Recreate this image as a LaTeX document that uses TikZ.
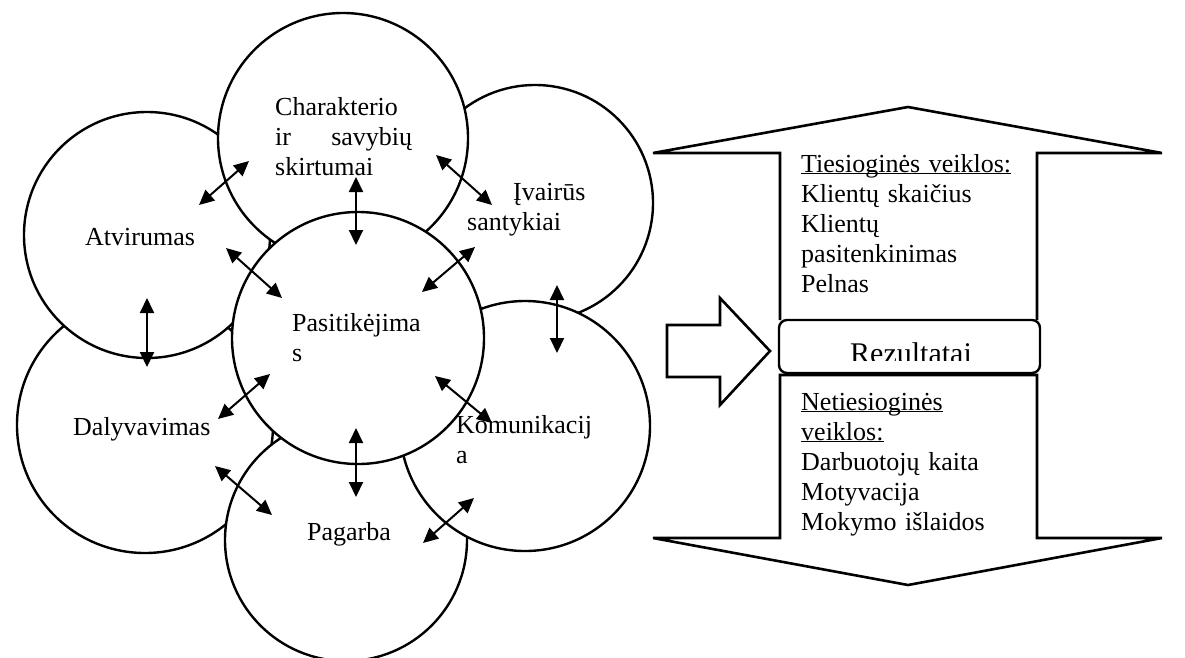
\documentclass[tikz,border=0pt]{standalone}
\usepackage{fontspec}
\setmainfont{Liberation Serif}
\usetikzlibrary{arrows.meta}
\newcommand{\ulin}[1]{\underline{\smash{#1}}}
\begin{document}
\begin{tikzpicture}[x=1pt,y=-1pt,line join=round,>={Triangle[length=15pt,width=14pt]},
    font=\fontsize{26}{30}\selectfont,
    bubble/.style={circle,draw,fill=white,line width=2.4pt,inner sep=0pt},
    txt/.style={anchor=base west,inner sep=0pt,align=left},
    twohead/.style={<->,line width=2pt},
    block/.style={draw,fill=white,line width=2.6pt,line join=miter}]
    \useasboundingbox (0,0) rectangle (1185,657);
    % ratai
    \node[bubble,minimum size=256pt] (dal) at (145,425) {};
    \node[bubble,minimum size=246pt] (atv) at (147,235) {};
    \node[bubble,minimum size=236pt] (ivr) at (535,203) {};
    \node[bubble,minimum size=250pt] (cha) at (343,138) {};
    \node[bubble,minimum size=242pt] (pag) at (346,540) {};
    \node[bubble,minimum size=250pt] (kom) at (525,426) {};
    \node[bubble,minimum size=252pt] (pas) at (358,338) {};
    % tekstai
    \node[txt] (atvt) at (85,245) {Atvirumas};
    \node[txt,text width=137pt] (chat) at (275,115) {Charakterio\\ir\hfill savybių\\skirtumai};
    \node[txt,text width=130pt] (ivrt) at (467,200) {\hspace*{46pt}Įvairūs\\santykiai};
    \node[txt,text width=140pt] (past) at (292,331) {Pasitikėjima\\s};
    \node[txt] (dalt) at (73,435) {Dalyvavimas};
    \node[txt,text width=140pt] (komt) at (456,433) {Komunikacij\\a};
    \node[txt] (pagt) at (307,540) {Pagarba};
    % rodykles
    \coordinate (ac1) at (199,205); \coordinate (ac2) at (249,161);
    \coordinate (cp1) at (356,177); \coordinate (cp2) at (356,245);
    \coordinate (ap1) at (226,248); \coordinate (ap2) at (282,298);
    \coordinate (ci1) at (436,155); \coordinate (ci2) at (492,205);
    \coordinate (pi1) at (422,292); \coordinate (pi2) at (475,247);
    \coordinate (ik1) at (557,285); \coordinate (ik2) at (557,353);
    \coordinate (ad1) at (147,298); \coordinate (ad2) at (147,367);
    \coordinate (dp1) at (218,419); \coordinate (dp2) at (270,374);
    \coordinate (pg1) at (356,428); \coordinate (pg2) at (356,497);
    \coordinate (dg1) at (215,466); \coordinate (dg2) at (272,515);
    \coordinate (pk1) at (435,376); \coordinate (pk2) at (492,423);
    \coordinate (gk1) at (423,543); \coordinate (gk2) at (474,498);
    \draw[twohead] (ac1) -- (ac2);
    \draw[twohead] (cp1) -- (cp2);
    \draw[twohead] (ap1) -- (ap2);
    \draw[twohead] (ci1) -- (ci2);
    \draw[twohead] (pi1) -- (pi2);
    \draw[twohead] (ik1) -- (ik2);
    \draw[twohead] (ad1) -- (ad2);
    \draw[twohead] (dp1) -- (dp2);
    \draw[twohead] (pg1) -- (pg2);
    \draw[twohead] (dg1) -- (dg2);
    \draw[twohead] (pk1) -- (pk2);
    \draw[twohead] (gk1) -- (gk2);
    % rezultatai
    \draw[block] (780,320) -- (780,153) -- (653,153) -- (908,107) -- (1162,153) -- (1037,153) -- (1037,320);
    \draw[block] (780,375) -- (780,538) -- (653,538) -- (908,585) -- (1162,538) -- (1037,538) -- (1037,375) -- cycle;
    \draw[block] (667,325) -- (720,325) -- (720,298) -- (770,351) -- (720,405) -- (720,377) -- (667,377) -- cycle;
    \node[draw,fill=white,line width=2.4pt,rounded corners=8pt,minimum width=261pt,minimum height=53pt,inner sep=0pt] (rez) at (909.5,346.5) {};
    \begin{scope}
        \clip (782,322) rectangle (1037,360);
        \node[anchor=base,inner sep=0pt,font=\fontsize{30}{34}\selectfont] (rezt) at (911,363) {Rezultatai};
    \end{scope}
    \node[txt,text width=235pt] (tiesiog) at (801,172) {\ulin{Tiesioginės veiklos:}\\Klientų skaičius\\Klientų\\pasitenkinimas\\Pelnas};
    \node[txt,text width=235pt] (netiesiog) at (801,410) {\ulin{Netiesioginės}\\\ulin{veiklos:}\\Darbuotojų kaita\\Motyvacija\\Mokymo išlaidos};
\end{tikzpicture}
\end{document}
